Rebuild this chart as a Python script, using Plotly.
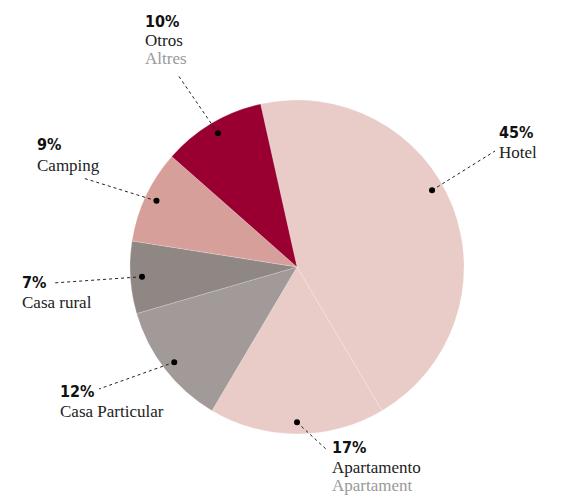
import math
import plotly.graph_objects as go

categories = ["Hotel", "Apartamento", "Casa Particular", "Casa rural", "Camping", "Otros"]
secondary = ["", "Apartament", "", "", "", "Altres"]
values = [45, 17, 12, 7, 9, 10]
pct_labels = ["45%", "17%", "12%", "7%", "9%", "10%"]
colors = ["#e9cbc7", "#e9cbc7", "#a29a98", "#8f8783", "#d69f9a", "#990031"]

W, H = 579, 499
OFF = 8  # page body margin offset
cx, cy, R = 297, 267, 167
rotation = -12.6

def px(x):
    return (x - OFF) / W

def py(y):
    return 1 - (y - OFF) / H

fig = go.Figure(go.Pie(
    labels=categories, values=values, sort=False, direction="clockwise",
    rotation=rotation, marker=dict(colors=colors, line=dict(color="rgba(255,255,255,0.35)", width=0.6)),
    textinfo="none", hoverinfo="label+percent", showlegend=False,
    domain=dict(x=[px(cx - R), px(cx + R)], y=[py(cy + R), py(cy - R)]),
))

# label anchor positions (pixels): percent text left x, percent y, leader end x, y
label_pos = {
    "Hotel": (499, 132, 495, 151),
    "Apartamento": (332, 447, 327, 450),
    "Casa Particular": (60, 391, 99, 389),
    "Casa rural": (22, 282, 53, 283),
    "Camping": (37, 145, 83, 178),
    "Otros": (145, 21, 178, 75),
}
angle_shift = {"Hotel": -8}
dot_r_frac = 0.93

shapes = []
annotations = []
total = sum(values)
cum = 0
for cat, sec, v, pl in zip(categories, secondary, values, pct_labels):
    mid = rotation + (cum + v / 2) / total * 360 + angle_shift.get(cat, 0)
    cum += v
    a = math.radians(mid)
    dx = cx + dot_r_frac * R * math.sin(a)
    dy = cy - dot_r_frac * R * math.cos(a)
    tx, ty, lx, ly = label_pos[cat]
    shapes.append(dict(type="line", xref="paper", yref="paper", x0=px(dx), y0=py(dy), x1=px(lx), y1=py(ly),
                       line=dict(color="#222", width=1, dash="dot")))
    shapes.append(dict(type="circle", xref="paper", yref="paper", x0=px(dx - 3), x1=px(dx + 3),
                       y0=py(dy + 3), y1=py(dy - 3), fillcolor="#000", line=dict(width=0)))
    annotations.append(dict(x=px(tx - 2), y=py(ty), xref="paper", yref="paper", xanchor="left", yanchor="middle",
                            text="<b>" + pl + "</b>", showarrow=False,
                            font=dict(family="DejaVu Sans Condensed, Liberation Sans Narrow", size=16, color="#111")))
    annotations.append(dict(x=px(tx - 2), y=py(ty + 20), xref="paper", yref="paper", xanchor="left", yanchor="middle",
                            text=cat, showarrow=False,
                            font=dict(family="Liberation Serif, DejaVu Serif", size=17, color="#222")))
    if sec:
        annotations.append(dict(x=px(tx - 2), y=py(ty + 38), xref="paper", yref="paper", xanchor="left", yanchor="middle",
                                text=sec, showarrow=False,
                                font=dict(family="Liberation Serif, DejaVu Serif", size=17, color="#999")))

fig.update_layout(width=W, height=H, margin=dict(l=0, r=0, t=0, b=0),
                  paper_bgcolor="white", plot_bgcolor="white",
                  shapes=shapes, annotations=annotations)
fig.write_html("out.html")
